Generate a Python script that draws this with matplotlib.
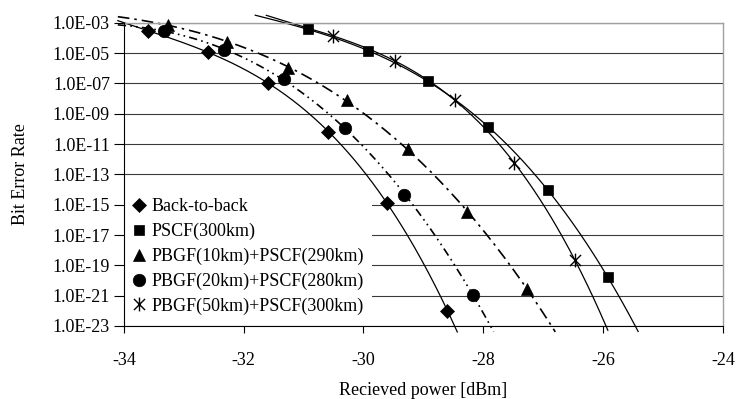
import numpy as np
import matplotlib
matplotlib.use('Agg')
import matplotlib.pyplot as plt
from matplotlib.path import Path
from matplotlib.lines import Line2D

plt.rcParams['font.family'] = 'Liberation Serif'

# received power (dBm) and log10(BER)
b2b_p = [-33.6, -32.6, -31.6, -30.6, -29.6, -28.6]
b2b_ber = [-3.53, -4.91, -6.96, -10.19, -14.88, -22.0]

pscf_p = [-30.92, -29.92, -28.92, -27.93, -26.92, -25.92]
pscf_ber = [-3.44, -4.87, -6.83, -9.86, -14.04, -19.8]

pbgf10_p = [-33.27, -32.27, -31.26, -30.28, -29.26, -28.28, -27.27]
pbgf10_ber = [-3.15, -4.25, -5.97, -8.10, -11.34, -15.47, -20.53]

pbgf20_p = [-33.33, -32.33, -31.33, -30.31, -29.32, -28.17]
pbgf20_ber = [-3.53, -4.80, -6.74, -9.93, -14.33, -20.97]

pbgf50_p = [-30.51, -29.48, -28.47, -27.48, -26.47]
pbgf50_ber = [-3.86, -5.53, -8.10, -12.28, -18.66]

labels = ['Back-to-back', 'PSCF(300km)', 'PBGF(10km)+PSCF(290km)',
          'PBGF(20km)+PSCF(280km)', 'PBGF(50km)+PSCF(300km)']

# asterisk marker: x plus vertical line
star = Path([(-1, -1), (1, 1), (-1, 1), (1, -1), (0, -1.25), (0, 1.25)],
            [Path.MOVETO, Path.LINETO, Path.MOVETO, Path.LINETO, Path.MOVETO, Path.LINETO])

series = [
    (b2b_p, b2b_ber, 'D', 7.5, (None, None), 0.9),
    (pscf_p, pscf_ber, 's', 7.5, (None, None), 0.9),
    (pbgf10_p, pbgf10_ber, '^', 9, (7, 3, 1.5, 3), 1.2),
    (pbgf20_p, pbgf20_ber, 'o', 9, (5, 2.5, 1, 2.5, 1, 2.5), 1.2),
    (pbgf50_p, pbgf50_ber, star, 10, (None, None), 0.9),
]

fig = plt.figure(figsize=(7.37, 3.99), dpi=100)
ax = fig.add_axes([0.168, 0.183, 0.813, 0.760])

handles = []
for (p, ber, mk, ms, dash, lw), lab in zip(series, labels):
    p = np.array(p)
    ber = np.array(ber)
    # trend line through the points (cubic in log scale), extended
    coef = np.polyfit(p, ber, 3)
    xs = np.linspace(-34.1, -24, 600)
    ys = np.polyval(coef, xs)
    keep = (ys <= -2.5) & (ys >= -23.4)
    ln, = ax.plot(xs[keep], 10.0 ** ys[keep], color='black', lw=lw, clip_on=False)
    if dash[0] is not None:
        ln.set_dashes(dash)
    mew = 1.0 if mk is star else 0.5
    ax.plot(p, 10.0 ** ber, linestyle='none', marker=mk, ms=ms, color='black',
            mec='black', mew=mew, clip_on=False, zorder=3)
    handles.append(Line2D([], [], linestyle='none', marker=mk, ms=ms, color='black',
                          mew=mew))

ax.set_yscale('log')
ax.set_xlim(-34, -24)
ax.set_ylim(1e-23, 1e-3)
ax.set_xticks(np.arange(-34, -23, 2))
ax.set_xticklabels([f'{v:d}' for v in range(-34, -23, 2)])
exps = list(range(-23, -2, 2))
ax.set_yticks([10.0 ** e for e in exps])
ax.set_yticklabels([f'1.0E{e:+03d}' for e in exps])
ax.yaxis.set_minor_locator(matplotlib.ticker.NullLocator())
ax.grid(axis='y', color='#3a3a3a', lw=0.8)
ax.set_axisbelow(True)

ax.tick_params(axis='y', direction='out', length=7, width=0.8, pad=3, labelsize=13)
ax.tick_params(axis='x', direction='out', length=5, width=0.8, pad=14, labelsize=13)
for s in ['left', 'bottom']:
    ax.spines[s].set_color('black')
    ax.spines[s].set_linewidth(0.8)
    ax.spines[s].set_zorder(6)
for s in ['right', 'top']:
    ax.spines[s].set_color('#a0a0a0')
    ax.spines[s].set_linewidth(1.0)

ax.set_ylabel('Bit Error Rate', fontsize=13, labelpad=17)
ax.set_xlabel('Recieved power [dBm]', fontsize=13, labelpad=9)

leg = ax.legend(handles, labels, loc='lower left', bbox_to_anchor=(0.0, 0.01),
                frameon=True, fancybox=False, fontsize=13, handlelength=0.8,
                handletextpad=0.3, labelspacing=0.42, borderaxespad=0.0,
                borderpad=0.45)
leg.get_frame().set_facecolor('white')
leg.get_frame().set_edgecolor('none')
leg.get_frame().set_alpha(1.0)

fig.savefig('out.png', dpi=100)
